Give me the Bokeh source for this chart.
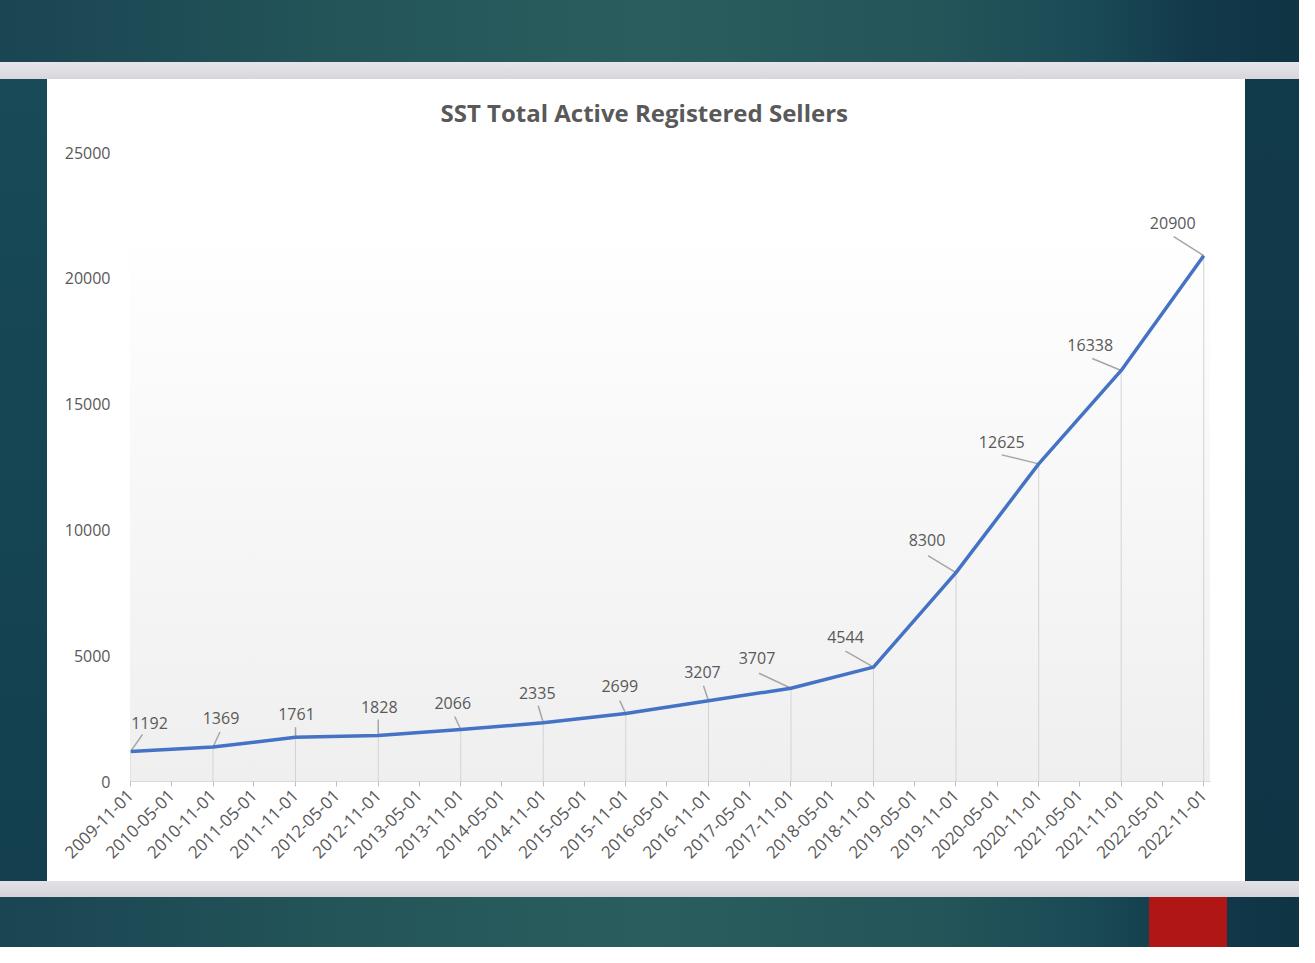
import math
import pandas as pd
from bokeh.plotting import figure
from bokeh.models import Range1d, FixedTicker, DatetimeTickFormatter, ColumnDataSource
from bokeh.core.properties import value
from bokeh.embed import file_html
from bokeh.resources import INLINE

# ---- data ----
title_text = "SST Total Active Registered Sellers"
dates = ["2009-11-01", "2010-11-01", "2011-11-01", "2012-11-01", "2013-11-01",
         "2014-11-01", "2015-11-01", "2016-11-01", "2017-11-01", "2018-11-01",
         "2019-11-01", "2020-11-01", "2021-11-01", "2022-11-01"]
sellers = [1192, 1369, 1761, 1828, 2066, 2335, 2699, 3207, 3707, 4544,
           8300, 12625, 16338, 20900]
tick_dates = []
for yr in range(2009, 2023):
    if yr > 2009:
        tick_dates.append(f"{yr}-05-01")
    tick_dates.append(f"{yr}-11-01")
y_ticks = [0, 5000, 10000, 15000, 20000, 25000]

# ---- label placement (style, pixels) ----
lab_dx = [19, 8, 1, 1, -8, -6, -6, -6, -34, -28, -29, -37, -31, -31]
lab_dy = [29, 29, 23, 29, 27, 30, 28, 29, 30, 30, 33, 22, 25, 33]
lead_dx = [12, 7, 0, 0, -6, -5, -6, -5, -32, -28, -28, -37, -29, -30]
lead_dy = [17, 15, 10, 16, 13, 17, 13, 15, 15, 16, 17, 9, 12, 19]

W, H = 1299, 947
FL, FT = 130, 152
FW, FH = 1080, 629

x_ms = list(pd.to_datetime(dates).asi8 / 1e6)
tick_ms = list(pd.to_datetime(tick_dates).asi8 / 1e6)
x_start = pd.Timestamp("2009-11-01").value / 1e6
x_end = pd.Timestamp("2022-12-01").value / 1e6
ppx = FW / (x_end - x_start)
ppy = FH / 25000.0

src = ColumnDataSource(dict(
    x=x_ms, y=sellers, zero=[0] * len(sellers),
    label=[str(v) for v in sellers],
    dx=lab_dx, dy=[-d for d in lab_dy],
    lx=[xv + d / ppx for xv, d in zip(x_ms, lead_dx)],
    ly=[yv + d / ppy for yv, d in zip(sellers, lead_dy)],
))

bg = ", ".join([
    "linear-gradient(#b11616,#b11616) 1149px 897px / 78px 60px no-repeat",
    f"linear-gradient(180deg,#ffffff 0%,#ffffff 12%,#efefef 100%) {FL}px {FT}px / {FW}px {FH}px no-repeat",
    "linear-gradient(#ffffff,#ffffff) 47px 79px / 1198px 802px no-repeat",
    "linear-gradient(180deg,#e6e6ea,#d6d6dc) 0px 62px / 100% 17px no-repeat",
    "linear-gradient(180deg,#e2e2e6,#d4d4da) 0px 881px / 100% 16px no-repeat",
    "linear-gradient(180deg,#184a57,#133f4e) 0px 79px / 47px 802px no-repeat",
    "linear-gradient(180deg,#113a4a,#0f3545) 1245px 79px / 54px 802px no-repeat",
    "linear-gradient(90deg,#1a4553 0%,#245659 28%,#2a5e5e 50%,#245559 72%,#1a4a55 84%,#12394a 92%,#0f3444 100%)",
])

p = figure(width=W, height=H, x_axis_type="datetime", output_backend="svg",
           toolbar_location=None, x_range=Range1d(x_start, x_end),
           y_range=Range1d(0, 25000),
           min_border_left=FL, min_border_right=W - FL - FW,
           min_border_top=FT, min_border_bottom=H - FT - FH,
           styles={"background": bg})
p.border_fill_color = None
p.background_fill_color = None
p.outline_line_color = None
p.grid.visible = False

p.title.text = title_text
p.title.align = "left"
p.title.offset = 310
p.title.standoff = 47
p.title.text_font = "Open Sans"
p.title.text_font_size = "24px"
p.title.text_font_style = "bold"
p.title.text_color = "#595959"

# drop lines
p.segment(x0="x", y0="zero", x1="x", y1="y", source=src, line_color="#d3d3d3", line_width=1)
# leader lines
p.segment(x0="x", y0="y", x1="lx", y1="ly", source=src, line_color="#a6a6a6", line_width=1.5)
# main line
p.line(x="x", y="y", source=src, line_color="#4472C4", line_width=3.5, line_join="round")
# data labels
p.text(x="x", y="y", text="label", x_offset="dx", y_offset="dy", source=src,
       text_align="center", text_baseline="middle", text_font=value("Open Sans"),
       text_font_size="16px", text_color="#595959")

fmt = "%Y-%m-%d"
xa = p.xaxis[0]
xa.ticker = FixedTicker(ticks=tick_ms)
xa.formatter = DatetimeTickFormatter(milliseconds=fmt, seconds=fmt, minsec=fmt, minutes=fmt,
                                     hourmin=fmt, hours=fmt, days=fmt, months=fmt, years=fmt,
                                     strip_leading_zeros=False)
xa.major_label_orientation = math.pi / 4
xa.major_label_text_font = "Open Sans"
xa.major_label_text_font_size = "17px"
xa.major_label_text_color = "#595959"
xa.axis_line_color = "#d9d9d9"
xa.major_tick_line_color = "#bfbfbf"
xa.major_tick_out = 5
xa.major_tick_in = 0
xa.minor_tick_out = 0
xa.minor_tick_in = 0
xa.major_label_standoff = 6

ya = p.yaxis[0]
ya.ticker = FixedTicker(ticks=y_ticks)
ya.axis_line_color = None
ya.major_tick_line_color = None
ya.minor_tick_line_color = None
ya.major_label_text_font = "Open Sans"
ya.major_label_text_font_size = "16px"
ya.major_label_text_color = "#595959"
ya.major_label_standoff = 14

open("out.html", "w").write(file_html(p, INLINE))
